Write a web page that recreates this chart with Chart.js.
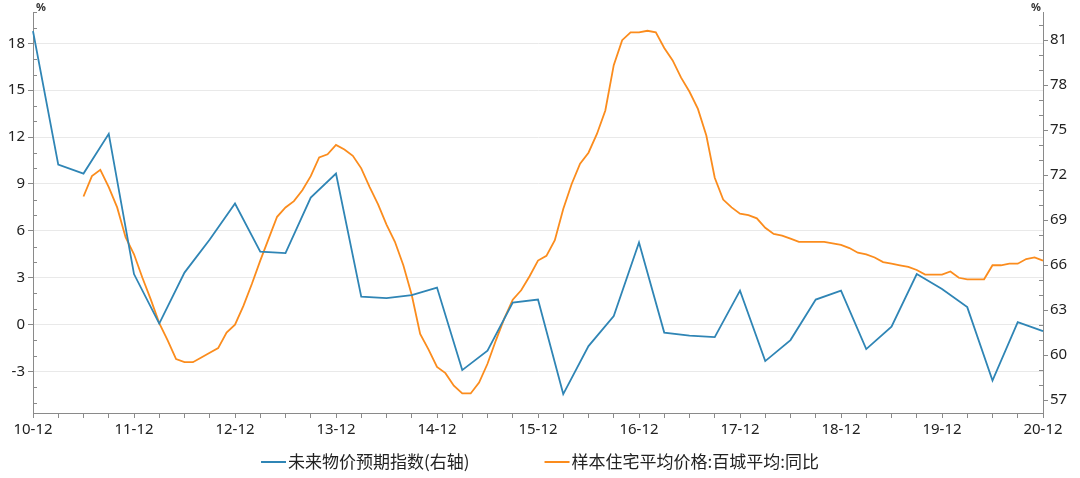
<!DOCTYPE html>
<html lang="zh-CN">
<head>
<meta charset="UTF-8">
<title>未来物价预期指数 vs 百城住宅价格同比</title>
<script src="https://cdn.jsdelivr.net/npm/chart.js"></script>
<style>
  html, body { margin: 0; padding: 0; background: #fff; }
  #caixa { width: 1080px; height: 478px; }
</style>
</head>
<body>
<div id="caixa"><canvas id="grafico" width="1080" height="478"></canvas></div>
<script>
// eixo x: meses de 10-12 até 20-12
const meses = [];
for (let a = 2010; a <= 2020; a++) {
  for (let m = 1; m <= 12; m++) {
    if (a === 2010 && m < 12) continue;
    meses.push(String(a).slice(2) + '-' + String(m).padStart(2, '0'));
  }
}

// 未来物价预期指数 (trimestral, eixo direito) 10-12 .. 20-12
const trimestres = meses.filter((_, i) => i % 3 === 0);
const expectativa = [
  81.6, 72.7, 72.1, 74.75, 65.4, 62.1, 65.5, 67.7, 70.1, 66.9,
  66.8, 70.5, 72.1, 63.9, 63.8, 64.0, 64.5, 59.0, 60.3, 63.5,
  63.7, 57.4, 60.6, 62.6, 67.5, 61.5, 61.3, 61.2, 64.3, 59.6,
  61.0, 63.7, 64.3, 60.4, 61.9, 65.4, 64.4, 63.2, 58.3, 62.2,
  61.6
];

// 样本住宅平均价格:百城平均:同比 (mensal, eixo esquerdo) a partir de 11-06
const inicioPreco = '11-06';
const precoAnual = [
  8.2, 9.5, 9.9, 8.8, 7.5, 5.6, 4.5, 3.0, 1.6, 0.1,
  -1.0, -2.2, -2.4, -2.4, -2.1, -1.8, -1.5, -0.5, 0.0, 1.2,
  2.6, 4.1, 5.5, 6.9, 7.5, 7.9, 8.6, 9.5, 10.7, 10.9,
  11.5, 11.2, 10.8, 10.0, 8.8, 7.7, 6.4, 5.3, 3.8, 1.9,
  -0.6, -1.6, -2.7, -3.1, -3.9, -4.4, -4.4, -3.7, -2.5, -1.0,
  0.4, 1.6, 2.2, 3.1, 4.1, 4.4, 5.4, 7.4, 9.0, 10.3,
  11.0, 12.2, 13.7, 16.6, 18.2, 18.7, 18.7, 18.8, 18.7, 17.7,
  16.9, 15.8, 14.9, 13.8, 12.1, 9.4, 8.0, 7.5, 7.1, 7.0,
  6.8, 6.2, 5.8, 5.7, 5.5, 5.3, 5.3, 5.3, 5.3, 5.2,
  5.1, 4.9, 4.6, 4.5, 4.3, 4.0, 3.9, 3.8, 3.7, 3.5,
  3.2, 3.2, 3.2, 3.4, 3.0, 2.9, 2.9, 2.9, 3.8, 3.8,
  3.9, 3.9, 4.2, 4.3, 4.1
];

const azul = '#2f85b5';
const laranja = '#fb8c1d';
const cinza = '#8a8a8a';

Chart.defaults.font.family = '"Noto Sans", "Noto Sans CJK SC", sans-serif';
Chart.defaults.font.size = 15;
Chart.defaults.color = '#222';

const i0 = meses.indexOf(inicioPreco);

// marcas menores (para dentro), "%" e legenda
const extras = {
  id: 'extras',
  afterDraw(chart) {
    const ctx = chart.ctx;
    const area = chart.chartArea;
    ctx.save();
    ctx.strokeStyle = cinza;
    ctx.lineWidth = 1;
    const ye = chart.scales.y, yd = chart.scales.y1;
    ye.ticks.forEach(t => {
      if (t.value % 3 === 0) return;
      const py = Math.round(ye.getPixelForValue(t.value)) + 0.5;
      ctx.beginPath(); ctx.moveTo(area.left, py); ctx.lineTo(area.left + 4, py); ctx.stroke();
    });
    yd.ticks.forEach(t => {
      if (t.value % 3 === 0) return;
      const py = Math.round(yd.getPixelForValue(t.value)) + 0.5;
      ctx.beginPath(); ctx.moveTo(area.right - 4, py); ctx.lineTo(area.right, py); ctx.stroke();
    });

    ctx.fillStyle = '#333';
    ctx.font = 'bold 11px "Noto Sans", sans-serif';
    ctx.textBaseline = 'top';
    ctx.textAlign = 'left';
    ctx.fillText('%', area.left + 3, 2);
    ctx.textAlign = 'right';
    ctx.fillText('%', area.right - 2, 2);

    // legenda
    ctx.font = '17px "Noto Sans CJK SC", sans-serif';
    ctx.textAlign = 'left';
    ctx.textBaseline = 'middle';
    const linha = 25, gap = 2, entre = 75;
    const itens = chart.data.datasets.map(d => ({ txt: d.label, cor: d.borderColor, w: ctx.measureText(d.label).width }));
    let total = itens.reduce((s, it) => s + linha + gap + it.w, 0) + entre * (itens.length - 1);
    let x = chart.width / 2 - total / 2;
    const y = 462;
    itens.forEach(it => {
      ctx.strokeStyle = it.cor;
      ctx.lineWidth = 2;
      ctx.beginPath(); ctx.moveTo(x, y); ctx.lineTo(x + linha, y); ctx.stroke();
      ctx.fillStyle = '#222';
      ctx.fillText(it.txt, x + linha + gap, y);
      x += linha + gap + it.w + entre;
    });
    ctx.restore();
  }
};

new Chart(document.getElementById('grafico'), {
  type: 'line',
  data: {
    labels: meses,
    datasets: [
      {
        label: '未来物价预期指数(右轴)',
        data: trimestres.map((q, i) => ({ x: q, y: expectativa[i] })),
        yAxisID: 'y1',
        borderColor: azul,
        backgroundColor: azul,
        borderWidth: 1.8,
        pointRadius: 0,
        tension: 0
      },
      {
        label: '样本住宅平均价格:百城平均:同比',
        data: precoAnual.map((v, i) => ({ x: meses[i0 + i], y: v })),
        yAxisID: 'y',
        borderColor: laranja,
        backgroundColor: laranja,
        borderWidth: 1.8,
        pointRadius: 0,
        tension: 0
      }
    ]
  },
  options: {
    responsive: false,
    animation: false,
    layout: { padding: { top: 8, left: 0, right: 0, bottom: 0 } },
    plugins: {
      legend: { display: false },
      tooltip: { enabled: false }
    },
    scales: {
      x: {
        type: 'category',
        offset: false,
        grid: { drawOnChartArea: false, tickLength: 5, tickColor: cinza, offset: false },
        border: { color: cinza },
        ticks: {
          autoSkip: false,
          maxRotation: 0,
          minRotation: 0,
          padding: 3,
          callback: function (v) {
            const l = this.getLabelForValue(v);
            return l.endsWith('-12') ? l : '';
          }
        },
        afterBuildTicks(s) { s.ticks = s.ticks.filter(t => t.value % 3 === 0); },
        afterFit(s) { s.height = 65; }
      },
      y: {
        position: 'left',
        min: -5.65,
        max: 20,
        afterBuildTicks(s) {
          const t = [];
          for (let v = -5; v <= 20; v++) t.push({ value: v });
          s.ticks = t;
        },
        ticks: { autoSkip: false, padding: 3, callback: v => (v % 3 === 0 ? v : '') },
        grid: {
          color: c => (c.tick && c.tick.value % 3 === 0 ? '#e9e9e9' : 'rgba(0,0,0,0)'),
          tickColor: c => (c.tick && c.tick.value % 3 === 0 ? cinza : 'rgba(0,0,0,0)'),
          tickLength: 5
        },
        border: { color: cinza },
        afterFit(s) { s.width = 33; }
      },
      y1: {
        position: 'right',
        min: 56.14,
        max: 82.87,
        afterBuildTicks(s) {
          const t = [];
          for (let v = 57; v <= 82; v++) t.push({ value: v });
          s.ticks = t;
        },
        ticks: { autoSkip: false, padding: 2, callback: v => (v % 3 === 0 ? v : '') },
        grid: {
          drawOnChartArea: false,
          tickColor: c => (c.tick && c.tick.value % 3 === 0 ? cinza : 'rgba(0,0,0,0)'),
          tickLength: 5
        },
        border: { color: cinza },
        afterFit(s) { s.width = 37; }
      }
    }
  },
  plugins: [extras]
});
</script>
</body>
</html>
